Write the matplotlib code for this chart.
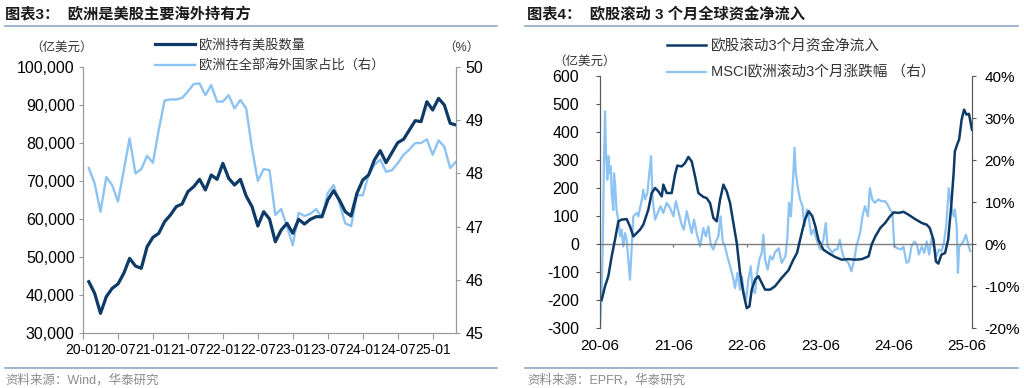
import numpy as np
import matplotlib
matplotlib.use('Agg')
import matplotlib.pyplot as plt
from matplotlib.lines import Line2D
from matplotlib.ticker import FuncFormatter

plt.rcParams['font.family'] = ['Liberation Sans', 'Noto Sans CJK SC', 'DejaVu Sans']
plt.rcParams['axes.unicode_minus'] = False

DARK = '#0D3A66'
LIGHT = '#8DC3F2'
GREY = '#8C8C8C'

# ── Chart 3: monthly, index 0 = 2020-01 ───────────────────────────────────────
months_3 = np.arange(1, 65)
tick_labels_3 = ['20-01', '20-07', '21-01', '21-07', '22-01', '22-07',
                 '23-01', '23-07', '24-01', '24-07', '25-01']
holdings = [43500, 40440, 35180, 39560, 41750, 42900, 45700, 49650, 47630, 47020,
            52720, 55180, 56230, 59300, 61050, 63250, 63950, 67200, 68510, 70440,
            67630, 71580, 70440, 74650, 70700, 68950, 70440, 66050, 63250, 58160,
            61930, 60000, 54000, 57100, 58860, 56230, 59910, 58680, 59910, 60610,
            60610, 65000, 67460, 65000, 61930, 60790, 66750, 70260, 71580, 75530,
            77990, 74820, 77460, 80090, 80970, 83420, 85880, 85610, 90870, 88680,
            91750, 90000, 85180, 84740]
share = [48.10, 47.81, 47.28, 47.93, 47.78, 47.47, 48.06, 48.66, 48.00, 48.08,
         48.33, 48.20, 48.82, 49.37, 49.39, 49.39, 49.42, 49.54, 49.68, 49.69,
         49.47, 49.66, 49.35, 49.35, 49.47, 49.22, 49.38, 49.22, 48.47, 47.86,
         48.08, 48.06, 47.22, 47.33, 47.00, 46.65, 47.26, 47.20, 47.24, 47.33,
         47.17, 47.63, 47.78, 47.44, 47.06, 47.01, 47.59, 47.59, 47.97, 48.16,
         48.26, 48.03, 48.06, 48.19, 48.35, 48.45, 48.57, 48.57, 48.64, 48.35,
         48.62, 48.50, 48.10, 48.22]

# ── Chart 4: months since 2020-06 ─────────────────────────────────────────────
tick_labels_4 = ['20-06', '21-06', '22-06', '23-06', '24-06', '25-06']
flow_m = [0.27, 0.82, 1.36, 1.91, 2.45, 3.0, 3.54, 4.36, 4.9, 5.45, 6.0, 6.54, 7.08,
          7.9, 8.45, 9.0, 9.54, 10.09, 10.35, 10.9, 11.72, 12.26, 12.64, 13.35, 13.9,
          14.44, 14.99, 15.53, 16.08, 16.9, 17.44, 17.99, 18.53, 19.08, 19.62, 20.17,
          20.71, 21.26, 21.8, 22.35, 22.9, 23.44, 23.98, 24.42, 24.8, 25.35, 25.89,
          26.44, 26.98, 27.8, 28.6, 29.7, 30.8, 31.6, 32.2, 32.7, 33.5, 34.1, 34.7,
          35.2, 35.7, 36.5, 37.3, 38.4, 39.5, 40.6, 41.7, 42.8, 43.9, 44.4, 45.0,
          45.8, 46.6, 47.4, 48.0, 48.8, 49.6, 50.4, 51.5, 52.6, 53.4, 53.9, 54.5,
          54.9, 55.3, 55.8, 56.4, 56.9, 57.4, 57.8, 58.0, 58.5, 58.7, 59.1, 59.5,
          59.9, 60.3, 60.8]
flow_v = [-200, -151, -115, -44, 15, 81, 87, 89, 63, 27, 39, 51, 69, 123, 182, 200,
          188, 170, 212, 182, 182, 248, 280, 277, 289, 311, 295, 242, 182, 168, 164,
          146, 93, 81, 158, 212, 188, 146, 75, 4, -104, -175, -229, -223, -163, -127,
          -115, -139, -163, -163, -151, -121, -94, -56, -32, 15, 87, 117, 99, 63, 15,
          -20, -32, -46, -56, -54, -56, -54, -44, -2, 27, 57, 75, 99, 113, 111, 115,
          105, 89, 75, 69, 57, 15, -62, -70, -38, -32, 15, 135, 254, 331, 363, 373,
          444, 480, 462, 465, 408]
msci_m = [0.0, 0.27, 0.44, 0.65, 0.82, 0.98, 1.2, 1.36, 1.53, 1.75, 1.91, 2.18, 2.29,
          2.45, 2.7, 3.0, 3.27, 3.54, 3.8, 4.1, 4.36, 4.63, 4.9, 5.18, 5.45, 6.0, 6.27,
          6.54, 6.8, 7.08, 7.36, 7.74, 8.34, 8.61, 9.0, 9.54, 9.9, 10.35, 10.9, 11.45,
          12.0, 12.4, 13.0, 13.35, 13.7, 14.17, 14.6, 15.0, 15.37, 15.8, 16.35, 16.9,
          17.3, 17.7, 18.1, 18.53, 18.96, 19.35, 19.7, 20.06, 20.44, 20.8, 21.26, 21.7,
          22.07, 22.46, 22.9, 23.2, 23.44, 23.87, 24.25, 24.64, 24.96, 25.35, 25.6,
          26.05, 26.44, 26.7, 26.98, 27.4, 27.8, 28.2, 28.6, 29.2, 29.7, 30.3, 30.6,
          30.9, 31.2, 31.6, 31.8, 32.0, 32.3, 32.7, 33.1, 33.4, 33.8, 34.1, 34.5, 34.9,
          35.4, 36.0, 36.5, 36.9, 37.2, 37.6, 38.0, 38.4, 38.8, 39.2, 39.6, 40.0, 40.6,
          41.1, 41.6, 41.9, 42.5, 42.9, 43.3, 43.8, 44.1, 44.5, 44.9, 45.5, 46.0, 46.6,
          47.0, 47.4, 47.8, 48.1, 48.6, 49.2, 49.6, 50.1, 50.5, 50.9, 51.4, 51.8, 52.1,
          52.6, 53.0, 53.4, 53.8, 54.2, 54.6, 55.0, 55.4, 55.8, 56.2, 56.6, 57.0, 57.4,
          57.8, 58.0, 58.3, 58.5, 58.7, 59.0, 59.4, 59.8, 60.2, 60.5]
msci_p = [-19.6, -11.7, -0.6, 20.1, 31.6, 21.7, 15.3, 20.9, 16.9, 18.5, 12.1, 8.1, 16.9,
          14.5, 8.1, 5.8, 1.8, 3.4, -0.6, 2.6, 1.0, -3.7, -8.5, -0.6, 6.6, 7.4, 6.6,
          8.6, 10.2, 12.9, 10.6, 12.1, 20.9, 10.6, 5.8, 7.8, 9.0, 7.4, 9.8, 8.6,
          6.6, 10.2, 6.6, 4.6, 3.4, 7.8, 5.0, 2.6, 5.8, 2.6, -0.6, 3.8,
          1.8, 4.2, -0.2, -1.3, 0.6, 1.8, 6.6, 0.6, -0.6, -2.9, -5.3, -7.7,
          -10.5, -6.9, -10.9, -7.7, -10.9, -13.3, -8.5, -5.3, -10.9, -11.7, -7.7,
          -3.7, -2.1, 2.2, -3.7, -6.1, -2.9, -3.7, -2.0, -1.0, -4.5, -2.9, 1.0,
          9.8, 6.6, 16.9, 22.9, 16.9, 13.7, 10.6, 9.0, 4.2, 8.2, 6.6, 2.2, 3.4,
          1.0, -1.3, 1.0, 5.0, -0.6, -1.3, -2.1, -1.3, -1.3, 1.0, -2.1, -3.7, -4.5,
          -6.5, -3.3, -0.6, 2.6, 6.6, 9.0, 6.6, 13.3, 10.6, 9.8, 10.6, 10.2, 10.2,
          9.4, 8.2, 7.4, -0.6, -1.0, -1.3, -0.6, -4.5, -4.1, -0.6, 0.6, -0.2, -2.5,
          -0.6, -2.1, 0.6, -2.5, 1.4, -0.6, -2.9, -1.3, -1.7, 0.2, 4.6, 13.3, 9.0,
          6.6, 8.2, 4.2, -6.9, -0.6, -0.2, 0.6, 2.2, -0.2, -1.7]

fig = plt.figure(figsize=(10.24, 3.88), dpi=100)
fig.patch.set_facecolor('white')

# ── Headers / footers ─────────────────────────────────────────────────────────
fig.text(5/1024, 1-15/388, '图表3：  欧洲是美股主要海外持有方', fontsize=11,
         fontweight='bold', va='center', ha='left', color='#1a1a1a')
fig.text(527/1024, 1-15/388, '图表4：  欧股滚动 3 个月全球资金净流入', fontsize=11,
         fontweight='bold', va='center', ha='left', color='#1a1a1a')
for x0, x1 in [(5, 497), (525, 1018)]:
    for yy in (26, 368):
        fig.add_artist(Line2D([x0/1024, x1/1024], [1-yy/388, 1-yy/388],
                              color='#8EA9CC', lw=1.2))
fig.text(5/1024, 1-380/388, '资料来源：Wind，华泰研究', fontsize=9, color=GREY,
         va='center', ha='left')
fig.text(527/1024, 1-380/388, '资料来源：EPFR，华泰研究', fontsize=9, color=GREY,
         va='center', ha='left')

# ── Chart 3 ───────────────────────────────────────────────────────────────────
ax = fig.add_axes([83/1024, 1-333/388, 373/1024, 266/388])
ax2 = ax.twinx()
l2, = ax2.plot(months_3, share, color=LIGHT, lw=1.7)
l1, = ax.plot(months_3, holdings, color=DARK, lw=2.3)
ax.set_zorder(ax2.get_zorder() + 1)
ax.patch.set_visible(False)

ax.set_xlim(0, 64)
ax.set_ylim(30000, 100000)
ax.set_yticks(np.arange(30000, 100001, 10000))
ax.yaxis.set_major_formatter(FuncFormatter(lambda v, p: f'{int(v):,}'))
ax2.set_ylim(45, 50)
ax2.set_yticks(np.arange(45, 51, 1))
ax.set_xticks(np.arange(0, 61, 6))
ax.set_xticklabels(tick_labels_3)
for a in (ax, ax2):
    a.spines['top'].set_visible(False)
    for s in a.spines.values():
        s.set_color('#9A9A9A')
ax.tick_params(axis='x', length=4, color='#9A9A9A', labelsize=10, pad=3)
ax.tick_params(axis='y', length=3, color='#9A9A9A', labelsize=11.5, pad=3)
ax2.tick_params(axis='y', length=3, color='#9A9A9A', labelsize=11.5, pad=4)

fig.text(62/1024, 1-48/388, '（亿美元）', fontsize=9, color='#333333', ha='center', va='center')
fig.text(461/1024, 1-48/388, '（%）', fontsize=9, color='#333333', ha='center', va='center')
fig.legend([l1, l2], ['欧洲持有美股数量', '欧洲在全部海外国家占比（右）'],
           loc='upper left', bbox_to_anchor=(155/1024, 1-39/388), frameon=False,
           fontsize=9.5, handlelength=3.0, handletextpad=0.3, labelspacing=0.6,
           borderpad=0, borderaxespad=0, labelcolor='#333333')

# ── Chart 4 ───────────────────────────────────────────────────────────────────
bx = fig.add_axes([600/1024, 1-328/388, 372/1024, 252/388])
bx2 = bx.twinx()
m2, = bx2.plot(msci_m, msci_p, color=LIGHT, lw=1.6)
m1, = bx.plot(flow_m, flow_v, color=DARK, lw=1.8)
bx.set_zorder(bx2.get_zorder() + 1)
bx.patch.set_visible(False)

bx.set_xlim(0, 60.8)
bx.set_ylim(-300, 600)
bx.set_yticks(np.arange(-300, 601, 100))
bx2.set_ylim(-20, 40)
bx2.set_yticks(np.arange(-20, 41, 10))
bx2.yaxis.set_major_formatter(FuncFormatter(lambda v, p: f'{int(v)}%'))
bx.set_xticks(np.arange(0, 61, 12))
bx.set_xticklabels(tick_labels_4)
bx.axhline(0, color='#7F7F7F', lw=1.0, zorder=1)
bx.vlines([12, 24, 36, 48], -10, 0, color='#7F7F7F', lw=1.0)
for a in (bx, bx2):
    a.spines['top'].set_visible(False)
    a.spines['bottom'].set_visible(False)
    for s in a.spines.values():
        s.set_color('#595959')
bx.tick_params(axis='x', length=0, labelsize=11, pad=8)
bx.tick_params(axis='y', length=3, color='#595959', labelsize=11.5, pad=12)
bx2.tick_params(axis='y', length=3, color='#595959', labelsize=11, pad=6)

fig.text(585/1024, 1-62/388, '（亿美元）', fontsize=9, color='#333333', ha='center', va='center')
fig.legend([m1, m2], ['欧股滚动3个月资金净流入', 'MSCI欧洲滚动3个月涨跌幅 （右）'],
           loc='upper left', bbox_to_anchor=(667/1024, 1-39/388), frameon=False,
           fontsize=10.5, handlelength=2.7, handletextpad=0.3, labelspacing=0.85,
           borderpad=0, borderaxespad=0, labelcolor='#333333')

fig.savefig('out.png', dpi=100, facecolor='white')
